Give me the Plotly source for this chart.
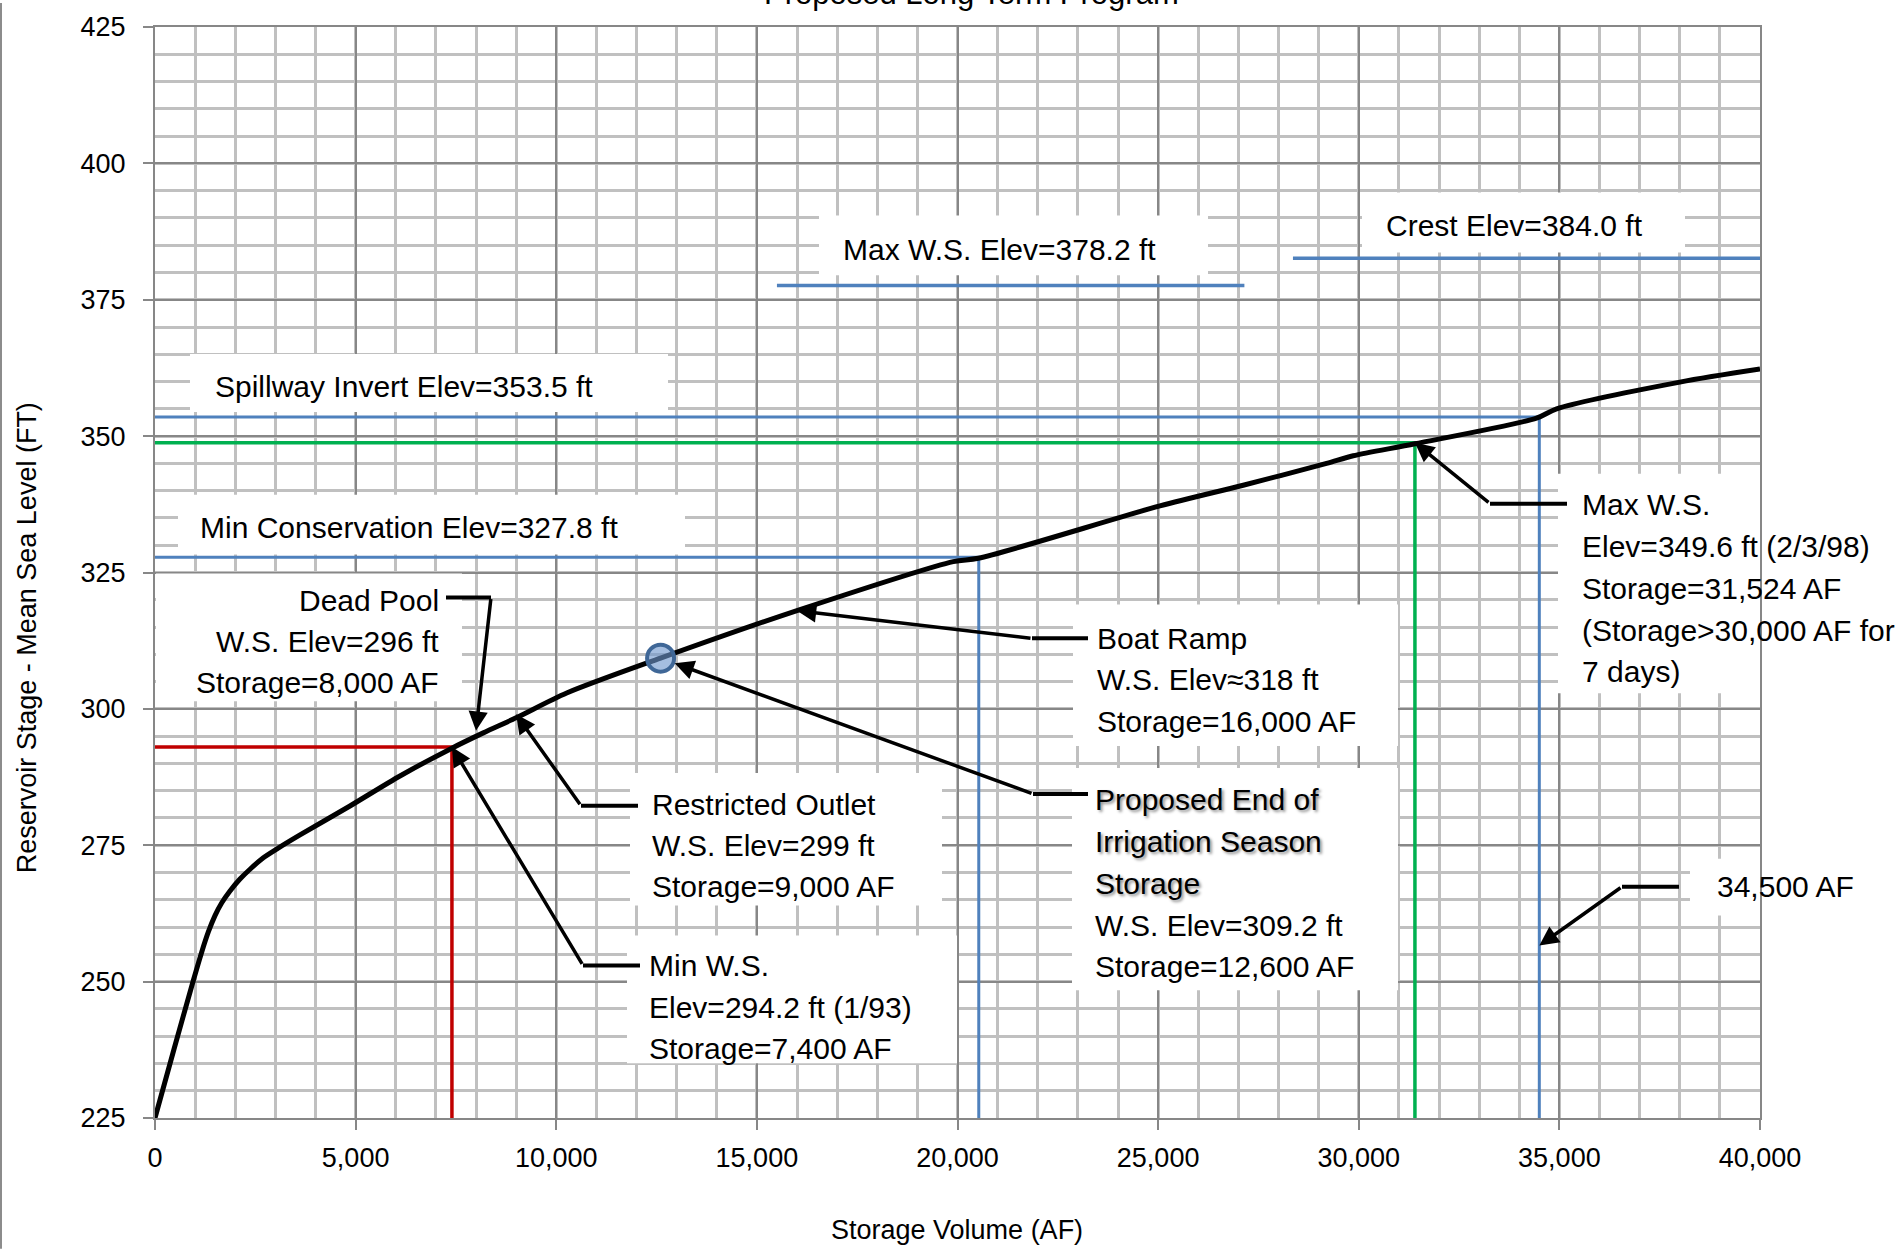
import plotly.graph_objects as go

# ---------------- data ----------------
storage_af = [0, 473, 955, 1163, 1329, 1495, 1661, 1869, 2118, 2368, 2700, 3032, 3614,
              4859, 6105, 7400, 8182, 9013, 10260, 12600, 16074, 19895, 20518, 25045,
              27120, 29198, 29862, 31400, 34430, 34930, 38003, 40000]
stage_ft = [225.0, 237.6, 250.2, 255.4, 259.1, 262.1, 264.4, 266.6, 268.8, 270.6, 272.7,
            274.3, 276.9, 282.2, 287.7, 292.8, 295.6, 298.4, 302.9, 309.3, 318.2, 327.0,
            327.6, 337.2, 341.0, 345.0, 346.4, 348.6, 353.3, 355.0, 359.9, 362.3]

# reference levels: (storage, elevation) drawn as L-shaped guide lines
min_ws_storage, min_ws_elev = 7400, 293.0
min_cons_storage, min_cons_elev = 20530, 327.8
max_ws_storage, max_ws_elev = 31400, 348.8
spill_storage, spill_elev = 34500, 353.5
# short horizontal levels
maxws_line_x = [15500, 27150]
maxws_line_elev = 377.6
crest_line_x = [28360, 40000]
crest_line_elev = 382.6
# proposed end-of-irrigation-season point
end_irr_storage, end_irr_elev = 12600, 309.3
# points indicated by callouts
dead_pool_pt = (8000, 296.0)
restricted_pt = (9000, 299.0)
boat_ramp_pt = (16000, 318.0)
af34500_pt = (34500, 256.6)

x_ticks = [0, 5000, 10000, 15000, 20000, 25000, 30000, 35000, 40000]
y_ticks = [225, 250, 275, 300, 325, 350, 375, 400, 425]

# ---------------- geometry helpers (pixel -> data) ----------------
PL, PR, PT, PB = 155, 1760, 24, 1118
W, H = 1904, 1249
XMIN, XMAX, YMIN, YMAX = 0, 40000, 225, 425


def dx(px):
    return XMIN + (px - PL) / (PR - PL) * (XMAX - XMIN)


def dy(py):
    return YMIN + (PB - py) / (PB - PT) * (YMAX - YMIN)


FONT = "Liberation Sans, Arial, sans-serif"
BLUE = "#4f81bd"
GREEN = "#00b050"
RED = "#c00000"

fig = go.Figure()

# white label boxes (cover the grid, below the traces)
boxes = [
    (190, 352, 668, 410),    # spillway
    (178, 493, 685, 553),    # min conservation
    (819, 213, 1208, 273),   # max ws 378.2
    (1362, 190, 1685, 250),  # crest
    (156, 572, 462, 700),    # dead pool
    (630, 772, 942, 905),    # restricted outlet
    (627, 935, 957, 1063),   # min ws
    (1073, 603, 1398, 745),  # boat ramp
    (1072, 767, 1398, 990),  # proposed end
    (1558, 472, 1904, 692),  # max ws 349.6
    (1690, 858, 1860, 915),  # 34,500 AF
]
for (x0, y0, x1, y1) in boxes:
    fig.add_shape(type="rect", xref="x", yref="y", x0=dx(x0), x1=dx(x1), y0=dy(y1), y1=dy(y0),
                  fillcolor="white", line=dict(width=0), layer="between")

# guide lines
def lguide(sx, ey, color, width):
    fig.add_trace(go.Scatter(x=[XMIN, sx, sx], y=[ey, ey, YMIN], mode="lines",
                             line=dict(color=color, width=width), hoverinfo="skip",
                             showlegend=False, cliponaxis=False))

lguide(spill_storage, spill_elev, BLUE, 3)
lguide(max_ws_storage, max_ws_elev, GREEN, 3.5)
lguide(min_cons_storage, min_cons_elev, BLUE, 3)
lguide(min_ws_storage, min_ws_elev, RED, 3.5)

fig.add_trace(go.Scatter(x=maxws_line_x, y=[maxws_line_elev] * 2, mode="lines",
                         line=dict(color=BLUE, width=3.5), showlegend=False, hoverinfo="skip"))
fig.add_trace(go.Scatter(x=crest_line_x, y=[crest_line_elev] * 2, mode="lines",
                         line=dict(color=BLUE, width=3.5), showlegend=False, hoverinfo="skip"))

# capacity curve
fig.add_trace(go.Scatter(x=storage_af, y=stage_ft, mode="lines",
                         line=dict(color="black", width=5, shape="spline", smoothing=0.8),
                         showlegend=False, cliponaxis=False))

# end of irrigation season marker
fig.add_trace(go.Scatter(x=[end_irr_storage], y=[end_irr_elev], mode="markers",
                         marker=dict(size=27, color="rgba(110,150,205,0.62)",
                                     line=dict(color="#3f6797", width=4)),
                         showlegend=False))

# ---------------- text ----------------
def label(px, py, text, anchor="left", shadow=False, size=30):
    font = dict(family=FONT, size=size, color="black")
    if shadow:
        font["shadow"] = "2px 2px 3px rgba(0,0,0,0.45)"
    fig.add_annotation(x=dx(px), y=dy(py), xref="x", yref="y", text=text, showarrow=False,
                       xanchor=anchor, yanchor="middle", font=font)

label(213, 384, "Spillway Invert Elev=353.5 ft")
label(198, 526, "Min Conservation Elev=327.8 ft")
label(841, 247, "Max W.S. Elev=378.2 ft")
label(1384, 223, "Crest Elev=384.0 ft")
for py, t in zip([599, 640, 681], ["Dead Pool", "W.S. Elev=296 ft", "Storage=8,000 AF"]):
    label(441, py, t, anchor="right")
for py, t in zip([804, 845, 886], ["Restricted Outlet", "W.S. Elev=299 ft", "Storage=9,000 AF"]):
    label(650, py, t)
for py, t in zip([965, 1007, 1048], ["Min W.S.", "Elev=294.2 ft (1/93)", "Storage=7,400 AF"]):
    label(647, py, t)
for py, t in zip([637, 678, 720], ["Boat Ramp", "W.S. Elev\u2248318 ft", "Storage=16,000 AF"]):
    label(1095, py, t)
for py, t in zip([799, 841], ["Proposed End of", "Irrigation Season"]):
    label(1093, py, t, shadow=True)
label(1093, 883, "Storage", shadow=True)
for py, t in zip([925, 966], ["W.S. Elev=309.2 ft", "Storage=12,600 AF"]):
    label(1093, py, t)
for py, t in zip([503, 545, 587, 629, 670],
                 ["Max W.S.", "Elev=349.6 ft (2/3/98)", "Storage=31,524 AF",
                  "(Storage>30,000 AF for", "7 days)"]):
    label(1580, py, t)
label(1715, 886, "34,500 AF")

# ---------------- leaders (elbow + arrow) ----------------
def leader(h0, h1, py, head, standoff=0):
    fig.add_shape(type="line", xref="x", yref="y", x0=dx(h0), x1=dx(h1), y0=dy(py), y1=dy(py),
                  line=dict(color="black", width=4), layer="above")
    fig.add_annotation(x=head[0], y=head[1], ax=dx(h0), ay=dy(py), xref="x", yref="y",
                       axref="x", ayref="y", text="", showarrow=True, arrowhead=2,
                       arrowsize=1.1, arrowwidth=3.5, arrowcolor="black", standoff=standoff)

leader(491, 446, 596, dead_pool_pt)
leader(583, 640, 965, (min_ws_storage, min_ws_elev))
leader(581, 638, 805, restricted_pt)
leader(1032, 1088, 637, boat_ramp_pt)
leader(1033, 1088, 793, (end_irr_storage, end_irr_elev), standoff=15)
leader(1490, 1567, 502, (max_ws_storage, max_ws_elev))
leader(1622, 1679, 886, af34500_pt)

# titles
fig.add_annotation(x=dx(971), y=(PB + 10) / (PB - PT), xref="x", yref="paper",
                   text="Proposed Long Term Program", showarrow=False, xanchor="center",
                   yanchor="middle", font=dict(family=FONT, size=31, color="black"))
fig.add_annotation(x=dx(957), y=(PB - 1230) / (PB - PT), xref="x", yref="paper",
                   text="Storage Volume (AF)", showarrow=False, xanchor="center",
                   yanchor="middle", font=dict(family=FONT, size=27, color="black"))
fig.add_annotation(x=(27 - PL) / (PR - PL), y=(PB - 637) / (PB - PT), xref="paper", yref="paper",
                   text="Reservoir Stage - Mean Sea Level (FT)", showarrow=False, textangle=-90,
                   xanchor="center", yanchor="middle",
                   font=dict(family=FONT, size=27, color="black"))

# chart-area left border
fig.add_shape(type="line", xref="paper", yref="paper",
              x0=(1 - PL) / (PR - PL), x1=(1 - PL) / (PR - PL),
              y0=(PB - H) / (PB - PT), y1=PB / (PB - PT),
              line=dict(color="#8c8c8c", width=2))

axis_common = dict(showgrid=True, gridcolor="#878787", gridwidth=2, zeroline=False,
                   showline=True, linecolor="#878787", linewidth=2, mirror=True,
                   ticks="outside", ticklen=10, tickcolor="#878787", tickwidth=2,
                   tickfont=dict(family=FONT, size=27, color="black"))

fig.update_xaxes(range=[XMIN, XMAX], tickvals=x_ticks,
                 ticktext=[f"{v:,}" for v in x_ticks], ticklabelstandoff=5,
                 minor=dict(dtick=1000, tick0=0, showgrid=True, gridcolor="#c0c0c0",
                            gridwidth=2.5, ticks=""),
                 **axis_common)
fig.update_yaxes(range=[YMIN, YMAX], tickvals=y_ticks,
                 ticktext=[str(v) for v in y_ticks], ticklabelstandoff=12,
                 minor=dict(dtick=5, tick0=225, showgrid=True, gridcolor="#c0c0c0",
                            gridwidth=2.5, ticks=""),
                 **axis_common)

fig.update_layout(width=W, height=H, autosize=False,
                  margin=dict(l=PL, r=W - PR, t=PT, b=H - PB, pad=0),
                  plot_bgcolor="white", paper_bgcolor="white", showlegend=False,
                  font=dict(family=FONT))

fig.write_html("out.html", config={"displayModeBar": False},
               post_script="document.body.style.margin='0';document.body.style.overflow='hidden';")
